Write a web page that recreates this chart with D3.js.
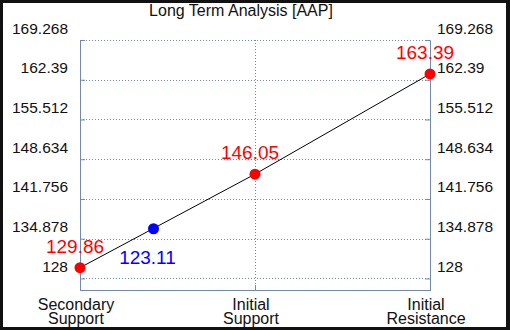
<!DOCTYPE html>
<html>
<head>
<meta charset="utf-8">
<script src="https://cdn.jsdelivr.net/npm/d3@7"></script>
<style>
  body { margin: 0; background: #111; }
  svg { display: block; font-family: "Liberation Sans", Arial, sans-serif; }
</style>
</head>
<body>
<div id="chart"></div>
<script>
// data
var title = "Long Term Analysis [AAP]";
var categories = [["Secondary", "Support"], ["Initial", "Support"], ["Initial", "Resistance"]];
var levels = [129.86, 146.05, 163.39];
var tickValues = [128, 134.878, 141.756, 148.634, 155.512, 162.39, 169.268];
// current price marker: sits on the line between the first two levels
var currentPos = 0.42;
var currentOnLine = 136.6;
var currentLabel = "123.11";

var W = 510, H = 330;
var margin = {top: 40, right: 80, bottom: 40, left: 80};
var gridColor = "#7289ab";

var svg = d3.select("#chart").append("svg")
  .attr("width", W)
  .attr("height", H);

// black frame
svg.append("rect").attr("width", W).attr("height", H).attr("fill", "#111");
svg.append("rect")
  .attr("x", 3).attr("y", 3)
  .attr("width", W - 7).attr("height", H - 6)
  .attr("fill", "white");

var x = d3.scaleLinear()
  .domain([0, categories.length - 1])
  .range([margin.left, W - margin.right]);

var y = d3.scaleLinear()
  .domain([126, 169.268])
  .range([H - margin.bottom, margin.top]);

svg.append("text")
  .attr("x", 241).attr("y", 16)
  .attr("text-anchor", "middle")
  .style("font-size", "16px")
  .attr("fill", "#111")
  .text(title);

// horizontal grid
svg.append("g")
  .selectAll("line")
  .data(tickValues)
  .enter().append("line")
  .attr("x1", x(0)).attr("x2", x(2))
  .attr("y1", function(d) { return Math.round(y(d)) + 0.5; })
  .attr("y2", function(d) { return Math.round(y(d)) + 0.5; })
  .style("stroke", gridColor)
  .style("stroke-dasharray", "1,2");

// vertical grid (middle category)
svg.append("line")
  .attr("x1", Math.round(x(1)) + 0.5).attr("x2", Math.round(x(1)) + 0.5)
  .attr("y1", y.range()[1]).attr("y2", y.range()[0])
  .style("stroke", gridColor)
  .style("stroke-dasharray", "1,2");

// axes frame with inner ticks
var axisL = d3.axisRight(y).tickValues(tickValues).tickSize(5).tickFormat("");
var axisR = d3.axisLeft(y).tickValues(tickValues).tickSize(5).tickFormat("");
var axisB = d3.axisTop(x).tickValues(d3.range(categories.length)).tickSize(5).tickFormat("");

[[axisL, "translate(" + x(0) + ",0)"],
 [axisR, "translate(" + x(2) + ",0)"],
 [axisB, "translate(0," + y.range()[0] + ")"]].forEach(function(a) {
  var g = svg.append("g").attr("transform", a[1]).call(a[0]);
  g.selectAll("path, line").attr("stroke", gridColor);
});

// tick labels both sides
svg.append("g").selectAll("text")
  .data(tickValues).enter().append("text")
  .attr("x", 68)
  .attr("y", function(d) { return y(d) - 6.5; })
  .attr("text-anchor", "end")
  .style("font-size", "15.5px")
  .attr("fill", "#111")
  .text(function(d) { return d; });

svg.append("g").selectAll("text")
  .data(tickValues).enter().append("text")
  .attr("x", 437)
  .attr("y", function(d) { return y(d) - 6.5; })
  .attr("text-anchor", "start")
  .style("font-size", "15.5px")
  .attr("fill", "#111")
  .text(function(d) { return d; });

// category labels
var cat = svg.append("g").selectAll("text")
  .data(categories).enter().append("text")
  .attr("text-anchor", "middle")
  .style("font-size", "16px")
  .attr("fill", "#111");
cat.selectAll("tspan")
  .data(function(d, i) { return d.map(function(s) { return {s: s, i: i}; }); })
  .enter().append("tspan")
  .attr("x", function(d) { return x(d.i) - 4; })
  .attr("y", function(d, j) { return 310 + j * 14; })
  .text(function(d) { return d.s; });

// line through levels
var line = d3.line()
  .x(function(d, i) { return x(i); })
  .y(function(d) { return y(d); });

svg.append("path")
  .datum(levels)
  .attr("d", line)
  .attr("fill", "none")
  .attr("stroke", "black")
  .attr("stroke-width", 1);

svg.append("g").selectAll("circle")
  .data(levels).enter().append("circle")
  .attr("cx", function(d, i) { return x(i); })
  .attr("cy", function(d) { return y(d); })
  .attr("r", 5.5)
  .attr("fill", "red");

svg.append("g").selectAll("text")
  .data(levels).enter().append("text")
  .attr("x", function(d, i) { return x(i) - 5; })
  .attr("y", function(d) { return y(d) - 15; })
  .attr("text-anchor", "middle")
  .style("font-size", "19px")
  .attr("fill", "red")
  .text(function(d) { return d.toFixed(2); });

svg.append("circle")
  .attr("cx", x(currentPos))
  .attr("cy", y(currentOnLine))
  .attr("r", 5.5)
  .attr("fill", "blue");

svg.append("text")
  .attr("x", x(currentPos) - 6)
  .attr("y", y(currentOnLine) + 35)
  .attr("text-anchor", "middle")
  .style("font-size", "19px")
  .attr("fill", "blue")
  .text(currentLabel);
</script>
</body>
</html>
